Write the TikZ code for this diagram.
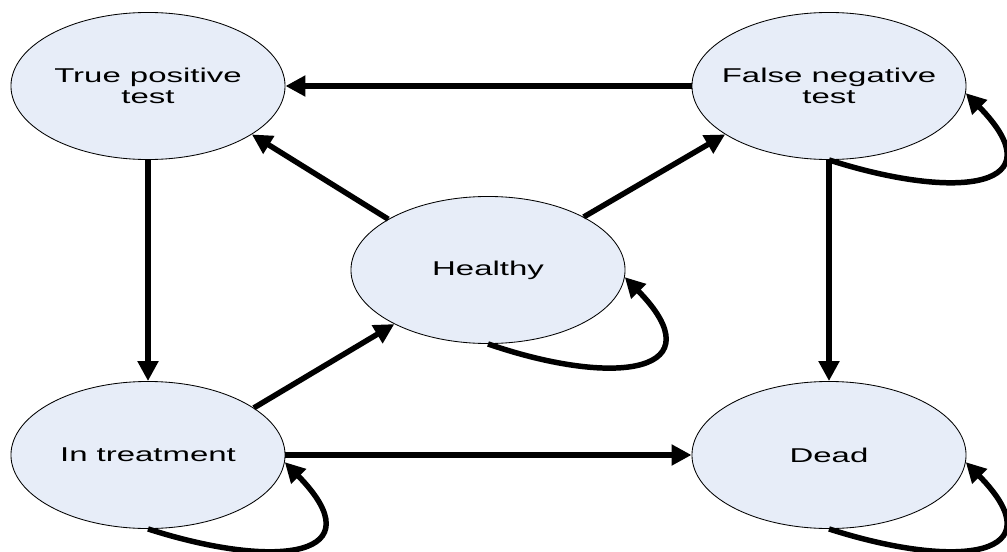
\documentclass[tikz,border=0pt]{standalone}
\usepackage{fontspec}
\setmainfont{Liberation Sans}[FakeStretch=1.65]
\usepackage{tikz}
\usetikzlibrary{shapes.geometric,arrows.meta}

\definecolor{statefill}{RGB}{231,237,248}
% text line that does not widen the ellipse
\newcommand{\flatline}[1]{\makebox[0pt]{#1}}

\begin{document}
\begin{tikzpicture}[x=0.025cm,y=-0.025cm,
    stage/.style={ellipse,draw,line width=0.6pt,fill=statefill,
      minimum width=6.85cm,minimum height=3.675cm,inner sep=0pt,align=center,
      font=\fontsize{14.2pt}{14.5pt}\selectfont},
    move/.style={line width=3.9pt},
    >={Triangle[length=0.5cm,width=0.5cm]}]
  \useasboundingbox (0,0) rectangle (1007,552);

  \node[stage] (1) at (148,86) {\flatline{True positive}\\\flatline{test}};
  \node[stage] (2) at (829,86) {\flatline{False negative}\\\flatline{test}};
  \node[stage] (3) at (488,270) {\flatline{Healthy}};
  \node[stage] (4) at (148,455) {\flatline{In treatment}};
  \node[stage] (5) at (829,455) {\flatline{Dead}};

  \draw[move,->] (2.west) to (1.east);
  \draw[move,->] (3.153) to (1.-25);
  \draw[move,->] (3.29) to (2.-155);
  \draw[move,->] (1.south) to (4.north);
  \draw[move,->] (2.south) to (5.north);
  \draw[move,->] (4.24) to (3.210);
  \draw[move,->] (4.east) to (5.west);

  % self loops
  \draw[move,->] (2.south) .. controls +(131,42) and +(92,94) .. (2.-3);
  \draw[move,->] (3.south) .. controls +(131,45) and +(92,94) .. (3.-3);
  \draw[move,->] (4.south) .. controls +(131,42) and +(92,94) .. (4.-3);
  \draw[move,->] (5.south) .. controls +(131,42) and +(92,94) .. (5.-3);

\end{tikzpicture}
\end{document}
